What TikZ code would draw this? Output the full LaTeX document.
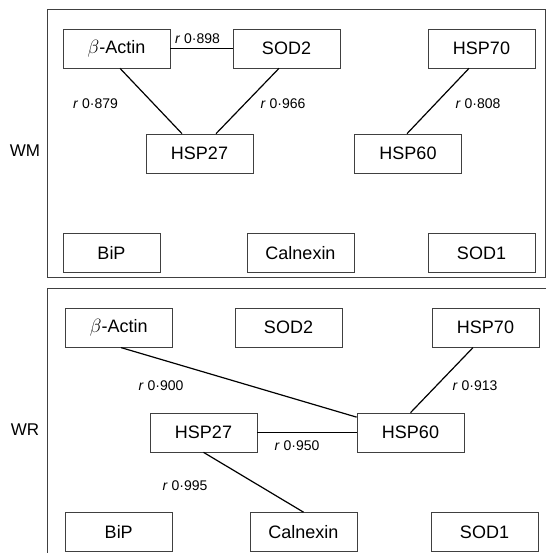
\documentclass[tikz,border=0pt]{standalone}
\usepackage{fontspec}
\setmainfont{Liberation Sans}
\usepackage{tikz}

\begin{document}
\begin{tikzpicture}[x=0.75pt, y=-0.75pt,
    gene/.style={draw=black!75, line width=0.5pt, minimum width=80.25pt, minimum height=29.25pt, inner sep=0pt, font=\fontsize{13.5}{16}\selectfont},
    corr/.style={inner sep=0pt, font=\fontsize{10.5}{12}\selectfont},
    tissue/.style={inner sep=0pt, font=\fontsize{12.75}{15}\selectfont},
    link/.style={line width=0.9pt}]
    \useasboundingbox (0,0) rectangle (546,553);
    % panels
    \draw [draw=black!75, line width=0.6pt] (47,9) rectangle (545,277);
    \draw [draw=black!75, line width=0.6pt] (546,288) -- (47,288) -- (47,553);
    \node [tissue] at (25,151) (wm) {WM};
    \node [tissue] at (25,430) (wr) {WR};
    % WM
    \node [gene] at (116.5,48.5) (actina) {$\beta$-Actin};
    \node [gene] at (286.5,48.5) (sod2a) {SOD2};
    \node [gene] at (481.5,48.5) (hsp70a) {HSP70};
    \node [gene] at (199.5,153.5) (hsp27a) {HSP27};
    \node [gene] at (408,153.5) (hsp60a) {HSP60};
    \node [gene, minimum width=72.75pt] at (111.5,253) (bipa) {BiP};
    \node [gene] at (300.5,253) (calna) {Calnexin};
    \node [gene] at (481.5,253) (sod1a) {SOD1};
    \node [corr] at (197.5,39) (ra) {\textit{r} 0·898};
    \node [corr] at (95.5,104) (rb) {\textit{r} 0·879};
    \node [corr] at (283,104) (rc) {\textit{r} 0·966};
    \node [corr] at (478,104) (rd) {\textit{r} 0·808};
    \path [draw, link] (actina) -- (sod2a);
    \path [draw, link] ([shift={(3.5,0)}]actina.south) -- ([shift={(-17.5,0)}]hsp27a.north);
    \path [draw, link] ([shift={(-7.5,0)}]sod2a.south) -- ([shift={(16.5,0)}]hsp27a.north);
    \path [draw, link] ([shift={(-12.5,0)}]hsp70a.south) -- ([shift={(-1,0)}]hsp60a.north);
    % WR
    \node [gene] at (118.75,327.75) (actinb) {$\beta$-Actin};
    \node [gene] at (288.5,327.75) (sod2b) {SOD2};
    \node [gene] at (485.5,327.75) (hsp70b) {HSP70};
    \node [gene] at (203.5,432.5) (hsp27b) {HSP27};
    \node [gene] at (410.5,432.5) (hsp60b) {HSP60};
    \node [gene] at (118.75,532) (bipb) {BiP};
    \node [gene] at (303.5,532) (calnb) {Calnexin};
    \node [gene] at (484.5,532) (sod1b) {SOD1};
    \node [corr] at (161,386) (re) {\textit{r} 0·900};
    \node [corr] at (475,386) (rf) {\textit{r} 0·913};
    \node [corr] at (297,446) (rg) {\textit{r} 0·950};
    \node [corr] at (185,486) (rh) {\textit{r} 0·995};
    \path [draw, link] ([shift={(2.25,0)}]actinb.south) -- ([shift={(0,4.5)}]hsp60b.north west);
    \path [draw, link] ([shift={(-12.5,0)}]hsp70b.south) -- (hsp60b.north);
    \path [draw, link] (hsp27b) -- (hsp60b);
    \path [draw, link] (hsp27b.south) -- (calnb.north);
\end{tikzpicture}
\end{document}
